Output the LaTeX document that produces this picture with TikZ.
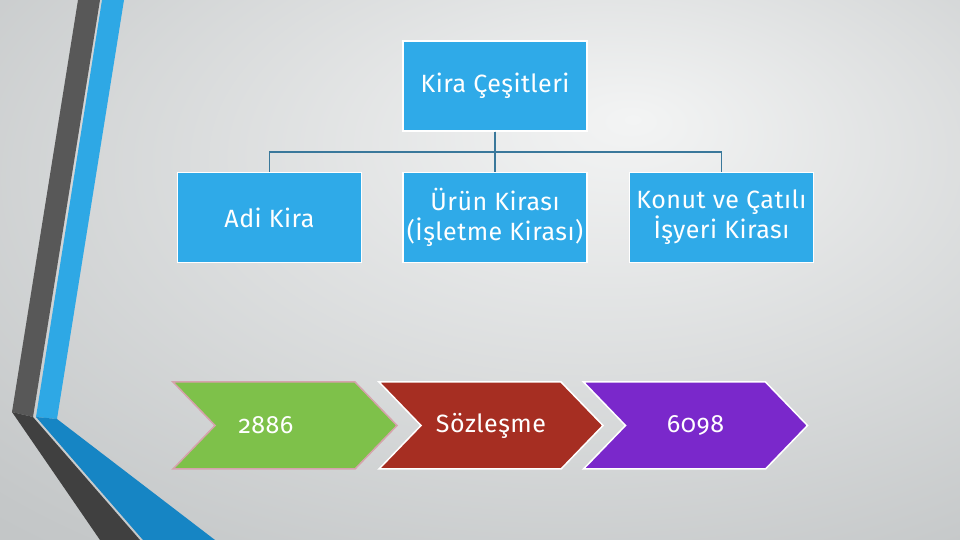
\documentclass[tikz,border=0pt]{standalone}
\usepackage{fontspec}
\setmainfont{Fira Sans}[Numbers=OldStyle, LetterSpace=2]
\usetikzlibrary{shapes.symbols, positioning, calc}

\definecolor{zeminic}{RGB}{243,244,244}
\definecolor{zemindis}{RGB}{196,199,200}
\definecolor{zeminkoyu}{RGB}{176,180,181}
\definecolor{kutumavi}{RGB}{47,170,232}
\definecolor{baglanti}{RGB}{58,120,155}
\definecolor{yesil}{RGB}{126,193,74}
\definecolor{pembe}{RGB}{214,162,172}
\definecolor{kirmizi}{RGB}{166,46,34}
\definecolor{mor}{RGB}{122,40,203}
\definecolor{seritkoyu}{RGB}{88,88,88}
\definecolor{seritkoyualt}{RGB}{64,64,64}
\definecolor{seritmavi}{RGB}{46,168,229}
\definecolor{seritmavialt}{RGB}{22,133,196}

\pgfdeclareradialshading{zemin}{\pgfpoint{8bp}{14bp}}{color(0bp)=(zeminic); color(40bp)=(zemindis); color(75bp)=(zeminkoyu)}
\newcommand{\yazi}{\fontsize{25}{30}\selectfont}

\begin{document}
\begin{tikzpicture}[x=1pt, y=1pt]
\tikzset{
  kutu/.style={draw=white, line width=1.5pt, fill=kutumavi, text=white, minimum width=184pt, minimum height=90pt, align=center, font=\yazi, inner sep=0pt},
  ok/.style={signal, signal from=west, signal to=east, signal pointer angle=92, minimum width=224pt, minimum height=87pt, line width=1.5pt, text=white, font=\yazi},
  bag/.style={draw=baglanti, line width=1.6pt}
}
\path[shading=zemin] (0,0) rectangle (960,540);
\useasboundingbox (0,0) rectangle (960,540);

% serit
\fill[seritkoyu] (78,540) -- (100,540) -- (33,123) -- (12,128) -- cycle;
\fill[seritkoyualt] (12,128) -- (33,123) -- (140,0) -- (100,0) -- cycle;
\fill[seritmavi] (102,540) -- (124,540) -- (57,121) -- (36,123) -- cycle;
\fill[seritmavialt] (36,123) -- (57,121) -- (215,0) -- (143,0) -- cycle;

\node[kutu] (kira) at (495,454) {Kira Çeşitleri};
\node[kutu, below=40pt of kira] (urun) {Ürün Kirası\\(İşletme Kirası)};
\node[kutu, left=40pt of urun] (adi) {Adi Kira};
\node[kutu, right=41pt of urun] (konut) {Konut ve Çatılı\\İşyeri Kirası};

\draw[bag] (kira.south) -- ++(0,-20) -| (adi.north);
\draw[bag] (kira.south) -- ++(0,-20) -| (konut.north);
\draw[bag] (kira.south) -- (urun.north);

\node[ok, fill=yesil, draw=pembe] (sayi1) at (285,114.5) {2886\hspace*{38pt}};
\node[ok, fill=kirmizi, draw=white] (sozlesme) at (491,114.5) {Sözleşme};
\node[ok, fill=mor, draw=white] (sayi2) at (695.5,114.5) {6098};
\end{tikzpicture}
\end{document}
